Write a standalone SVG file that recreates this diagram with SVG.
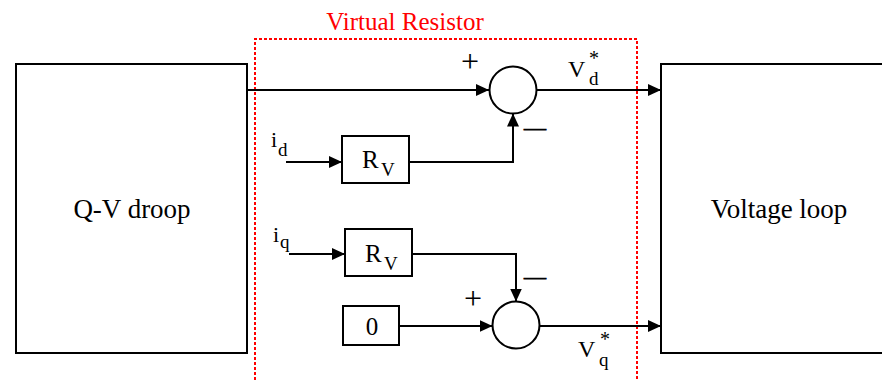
<svg xmlns="http://www.w3.org/2000/svg" width="882" height="380" viewBox="0 0 882 380">
<style>
.box{fill:#fff;stroke:#000;stroke-width:2}
.ln{fill:none;stroke:#000;stroke-width:2}
text{font-family:'Liberation Serif','Times New Roman',serif;fill:#000}
.big{font-size:27px}
.mid{font-size:25px}
.lab{font-size:22px}
.vl{font-size:24px}
.sub{font-size:19px}
.ast{font-size:20px}
.plus{font-size:32px}
.sign{stroke:#000;stroke-width:0.8;font-size:22px}
</style>
<defs>
<marker id="arr" markerUnits="userSpaceOnUse" markerWidth="14" markerHeight="12" refX="13" refY="6" orient="auto">
<path d="M0,0 L13,6 L0,12 z" fill="#000"/>
</marker>
</defs>
<rect width="882" height="380" fill="#fff"/>
<g id="virtual-resistor">
<path d="M255,390 V39 H637 V390" fill="none" stroke="#f00" stroke-width="2" stroke-dasharray="3 2"/>
<text class="mid" x="405" y="30" text-anchor="middle" style="fill:#f00">Virtual Resistor</text>
</g>
<g id="qv-droop">
<rect class="box" x="16" y="64" width="231" height="289"/>
<text class="big" x="132" y="218" text-anchor="middle">Q-V droop</text>
</g>
<g id="voltage-loop">
<rect class="box" x="661" y="64" width="240" height="289"/>
<text class="big" x="779" y="218" text-anchor="middle">Voltage loop</text>
</g>
<g id="sum-d">
<circle class="ln" cx="513" cy="90" r="23.5"/>
<text class="plus" x="470" y="72" text-anchor="middle">+</text>
<text class="sign" x="524" y="135">—</text>
</g>
<g id="sum-q">
<circle class="ln" cx="516" cy="325" r="23.5"/>
<text class="plus" x="473" y="309" text-anchor="middle">+</text>
<text class="sign" x="524" y="284">—</text>
</g>
<g id="rv-d">
<rect class="box" x="342" y="136" width="67" height="47"/>
<text class="mid" x="362" y="168">R</text>
<text class="sub" x="381" y="176">V</text>
</g>
<g id="rv-q">
<rect class="box" x="345" y="229" width="67" height="47"/>
<text class="mid" x="365" y="262">R</text>
<text class="sub" x="384" y="270">V</text>
</g>
<g id="zero">
<rect class="box" x="343" y="306" width="56" height="39"/>
<text class="mid" x="372" y="335" text-anchor="middle">0</text>
</g>
<g id="labels">
<text class="lab" x="271" y="147">i</text>
<text class="sub" x="278" y="156">d</text>
<text class="lab" x="273" y="242">i</text>
<text class="sub" x="280" y="248">q</text>
<text class="vl" x="568" y="77">V</text>
<text class="sub" x="589" y="85">d</text>
<text class="ast" x="589" y="65">*</text>
<text class="vl" x="578" y="357">V</text>
<text class="sub" x="599" y="366">q</text>
<text class="ast" x="600" y="346">*</text>
</g>
<g id="connectors">
<path class="ln" d="M247,90 H489" marker-end="url(#arr)"/>
<path class="ln" d="M536.5,90 H661" marker-end="url(#arr)"/>
<path class="ln" d="M286,162 H342" marker-end="url(#arr)"/>
<path class="ln" d="M409,162 H513 V113.5" marker-end="url(#arr)"/>
<path class="ln" d="M289,254 H345" marker-end="url(#arr)"/>
<path class="ln" d="M412,254 H516 V301.5" marker-end="url(#arr)"/>
<path class="ln" d="M399,326 H492.5" marker-end="url(#arr)"/>
<path class="ln" d="M539.5,326 H661" marker-end="url(#arr)"/>
</g>
</svg>
